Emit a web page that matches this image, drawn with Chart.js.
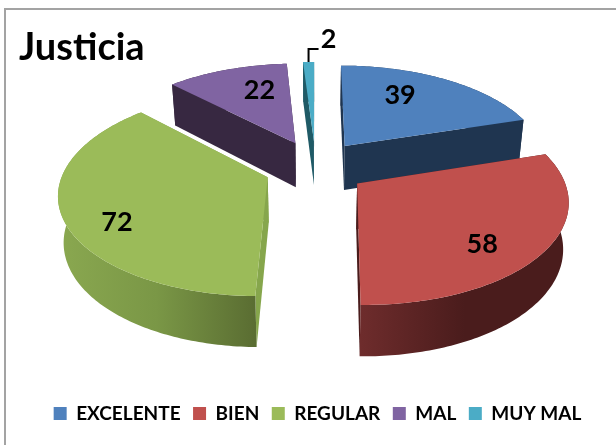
<!DOCTYPE html>
<html><head><meta charset="utf-8">
<style>html,body{margin:0;padding:0;background:#fff}canvas{display:block}</style>
<script src="https://cdn.jsdelivr.net/npm/chart.js@4"></script>
</head><body><canvas id="c" width="616" height="445"></canvas>
<script>
const categories = ['EXCELENTE','BIEN','REGULAR','MAL','MUY MAL'];
const values = [39,58,72,22,2];
const chartTitle = 'Justicia';
const topColors = ['#4f81bd','#c0504d','#9bbb59','#8064a2','#4bacc6'];
const radialWall = ['#1f3550','#4a1c1c','#86a64c','#372841','#1f5a66'];
const curveWall = [
  ['#1f3550','#1f3550'],
  ['#6e2c2c','#4a1c1c','#4a1c1c'],
  ['#8aa850','#7a9746','#5a6d32'],
  ['#372841','#372841'],
  ['#1f5a66','#1f5a66']];
const paintOrder = [4,3,0,2,1];
const labelShift = [-8.4,8.4,-10,6,0];
const labelRadius = [0.68,0.76,0.79,0.67,0];

const P = {cx:315.5, cy:167, A:203, B:98, k:0.148, ex:0.25, ey:0.275, D:45};
function proj(X,Y){const w=1+P.k*Y;return {x:P.cx+P.A*X/w, y:P.cy-P.B*Y/w, w};}
function down(p){return {x:P.cx+(p.x-P.cx)*0.978, y:p.y+P.D/Math.pow(p.w,0.7)};}

class Arc3D extends Chart.ArcElement {
  draw(ctx){
    const i=this.$context.dataIndex;
    const a0=this.startAngle+Math.PI/2, a1=this.endAngle+Math.PI/2, m=(a0+a1)/2;
    const ox=P.ex*Math.sin(m), oy=P.ey*Math.cos(m);
    const pt=(t,r)=>proj(ox+r*Math.sin(t),oy+r*Math.cos(t));
    const n=Math.max(6,Math.ceil((a1-a0)*60));
    const rim=[];for(let s=0;s<=n;s++)rim.push(pt(a0+(a1-a0)*s/n,1));
    const apex=pt(0,0);
    const poly=(pts,fill)=>{ctx.beginPath();pts.forEach((p,j)=>j?ctx.lineTo(p.x,p.y):ctx.moveTo(p.x,p.y));ctx.closePath();ctx.fillStyle=fill;ctx.fill();};
    ctx.save();
    poly([apex,rim[0],down(rim[0]),down(apex)],radialWall[i]);
    poly([apex,rim[n],down(rim[n]),down(apex)],radialWall[i]);
    const xs=rim.map(p=>p.x), g=ctx.createLinearGradient(Math.min(...xs),0,Math.max(...xs),0);
    curveWall[i].forEach((c,j,arr)=>g.addColorStop(j/(arr.length-1),c));
    poly(rim.concat(rim.map(down).reverse()),g);
    poly([apex].concat(rim),topColors[i]);
    // value label
    ctx.fillStyle='#000';ctx.textAlign='center';ctx.textBaseline='middle';
    ctx.font='bold 27px Lato';
    if(labelRadius[i]>0){
      const l=pt(m+labelShift[i]*Math.PI/180,labelRadius[i]);
      ctx.fillText(String(values[i]),l.x,l.y);
    }else{
      const o=pt(m,1);
      ctx.beginPath();ctx.moveTo(o.x,o.y);ctx.lineTo(o.x,o.y-13);ctx.lineTo(o.x+10,o.y-13);
      ctx.strokeStyle='#000';ctx.lineWidth=2;ctx.stroke();
      ctx.fillText(String(values[i]),o.x+20,o.y-23);
    }
    ctx.restore();
  }
}
Arc3D.id='arc3d';
class Pie3D extends Chart.PieController {
  draw(){
    const ctx=this.chart.ctx, els=this.getMeta().data;
    paintOrder.forEach(i=>els[i].draw(ctx));
  }
}
Pie3D.id='pie3d';
Pie3D.defaults=Object.assign({},Chart.PieController.defaults,{dataElementType:'arc3d'});
Pie3D.overrides=Chart.PieController.overrides;
Chart.register(Arc3D,Pie3D);

const frame={id:'frame',beforeDraw(ch){const c=ch.ctx;c.save();c.fillStyle='#fff';c.fillRect(0,0,616,445);
  c.strokeStyle='#a3a3a3';c.lineWidth=2;c.beginPath();c.moveTo(5,445);c.lineTo(5,9);c.lineTo(616,9);c.stroke();c.restore();}};

new Chart(document.getElementById('c'),{
  type:'pie3d',
  plugins:[frame],
  data:{labels:categories,datasets:[{data:values,backgroundColor:topColors,borderWidth:0}]},
  options:{
    responsive:false,animation:false,
    layout:{padding:{left:19,right:0,top:25,bottom:12}},
    plugins:{
      tooltip:{enabled:false},
      title:{display:true,text:chartTitle,align:'start',color:'#000',font:{family:'Lato',size:38,weight:'bold'},padding:0},
      legend:{position:'bottom',labels:{color:'#000',font:{family:'Lato',size:19,weight:'bold'},boxWidth:13,boxHeight:13,padding:12.5}}
    }
  }
});
</script></body></html>
